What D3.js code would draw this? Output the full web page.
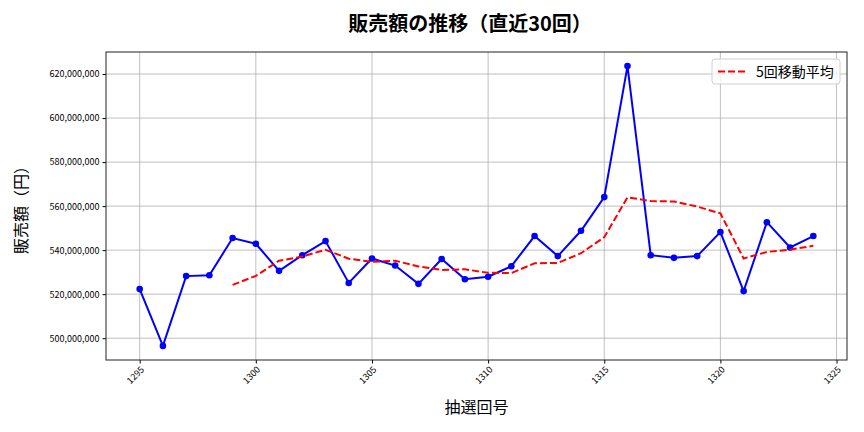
<!DOCTYPE html>
<html>
<head>
<meta charset="utf-8">
<script src="https://cdn.jsdelivr.net/npm/d3@7"></script>
<style>
  body { margin: 0; background: #fff; }
  svg text { font-family: "Noto Sans CJK JP", "Noto Sans", sans-serif; }
</style>
</head>
<body>
<div id="chart"></div>
<script>
const width = 864;
const height = 432;
const marginTop = 52;
const marginRight = 17;
const marginBottom = 72;
const marginLeft = 106;

// 抽選回号
const draws = [1295, 1296, 1297, 1298, 1299, 1300, 1301, 1302, 1303, 1304,
    1305, 1306, 1307, 1308, 1309, 1310, 1311, 1312, 1313, 1314,
    1315, 1316, 1317, 1318, 1319, 1320, 1321, 1322, 1323, 1324];
// 販売額 (millions of yen)
const sales = [522.3, 496.5, 528.2, 528.6, 545.5, 542.9, 530.6, 537.7, 544.1, 525.1,
    536.2, 533.0, 524.7, 536.0, 526.8, 527.9, 532.7, 546.4, 537.3, 548.8,
    564.1, 623.6, 537.7, 536.5, 537.3, 548.2, 521.4, 552.7, 541.2, 546.4];
// 5回移動平均 (first 4 draws have no value)
const movingAvg = [null, null, null, null, 524.2, 528.3, 535.2, 537.1, 540.2, 536.1,
    534.7, 535.2, 532.6, 531.0, 531.3, 529.7, 529.6, 534.0, 534.2, 538.6,
    545.9, 564.0, 562.3, 562.1, 559.8, 556.7, 536.2, 539.2, 540.2, 542.0];
const xTicks = [1295, 1300, 1305, 1310, 1315, 1320, 1325];
const yTicks = [500, 520, 540, 560, 580, 600, 620];

const svg = d3.select("#chart")
    .append("svg")
    .attr("width", width)
    .attr("height", height);

const xScale = d3.scaleLinear()
    .domain([1293.55, 1325.45])
    .range([marginLeft, width - marginRight]);

const yScale = d3.scaleLinear()
    .domain([490.1, 630.0])
    .range([height - marginBottom, marginTop]);

// grid
svg.append("g")
    .selectAll("line")
    .data(xTicks)
    .join("line")
    .attr("x1", d => xScale(d)).attr("x2", d => xScale(d))
    .attr("y1", marginTop).attr("y2", height - marginBottom)
    .attr("stroke", "#b0b0b0").attr("stroke-width", 0.8);

svg.append("g")
    .selectAll("line")
    .data(yTicks)
    .join("line")
    .attr("x1", marginLeft).attr("x2", width - marginRight)
    .attr("y1", d => yScale(d)).attr("y2", d => yScale(d))
    .attr("stroke", "#b0b0b0").attr("stroke-width", 0.8);

// axes
const xAxis = svg.append("g")
    .attr("transform", `translate(0, ${height - marginBottom})`)
    .call(d3.axisBottom(xScale).tickValues(xTicks).tickFormat(d3.format("d")).tickSize(3.5).tickSizeOuter(0));
xAxis.select(".domain").remove();
xAxis.selectAll("text")
    .attr("font-size", 9)
    .attr("fill", "#000")
    .style("text-anchor", "end")
    .attr("x", 0)
    .attr("y", 0)
    .attr("dx", "0.1em")
    .attr("dy", "0.3em")
    .attr("transform", "translate(2, 9) rotate(-45)");

const yAxis = svg.append("g")
    .attr("transform", `translate(${marginLeft}, 0)`)
    .call(d3.axisLeft(yScale).tickValues(yTicks).tickFormat(d => d3.format(",")(d * 1e6)).tickSize(3.5).tickSizeOuter(0));
yAxis.select(".domain").remove();
yAxis.selectAll("text").attr("font-size", 9).attr("fill", "#000");

svg.append("rect")
    .attr("x", marginLeft)
    .attr("y", marginTop)
    .attr("width", width - marginLeft - marginRight)
    .attr("height", height - marginTop - marginBottom)
    .attr("fill", "none")
    .attr("stroke", "#222")
    .attr("stroke-width", 1);

// lines
const salesData = draws.map((d, i) => ({draw: d, value: sales[i]}));
const maData = draws.map((d, i) => ({draw: d, value: movingAvg[i]}));

const line = d3.line()
    .defined(d => d.value != null)
    .x(d => xScale(d.draw))
    .y(d => yScale(d.value));

svg.append("path")
    .datum(salesData)
    .attr("fill", "none")
    .attr("stroke", "#0000ff")
    .attr("stroke-width", 2)
    .attr("d", line);

svg.append("g")
    .selectAll("circle")
    .data(salesData)
    .join("circle")
    .attr("cx", d => xScale(d.draw))
    .attr("cy", d => yScale(d.value))
    .attr("r", 3.3)
    .attr("fill", "#0000ff");

svg.append("path")
    .datum(maData)
    .attr("fill", "none")
    .attr("stroke", "#ff0000")
    .attr("stroke-width", 2)
    .attr("stroke-dasharray", "7,3")
    .attr("d", line);

// legend
const legend = svg.append("g").attr("transform", `translate(712, 59)`);
legend.append("rect")
    .attr("width", 128).attr("height", 25).attr("rx", 3)
    .attr("fill", "rgba(255,255,255,0.8)")
    .attr("stroke", "#d0d0d0");
legend.append("line")
    .attr("x1", 6).attr("x2", 34).attr("y1", 12.5).attr("y2", 12.5)
    .attr("stroke", "#ff0000").attr("stroke-width", 2).attr("stroke-dasharray", "7,3");
legend.append("text")
    .attr("x", 44).attr("y", 17.5)
    .attr("font-size", 14)
    .text("5回移動平均");

// titles
svg.append("text")
    .attr("x", 470)
    .attr("y", 31)
    .attr("text-anchor", "middle")
    .attr("font-size", 20)
    .attr("font-weight", "bold")
    .text("販売額の推移（直近30回）");

svg.append("text")
    .attr("x", (marginLeft + width - marginRight) / 2)
    .attr("y", 413)
    .attr("text-anchor", "middle")
    .attr("font-size", 16)
    .text("抽選回号");

svg.append("text")
    .attr("transform", "rotate(-90)")
    .attr("x", -(marginTop + height - marginBottom) / 2)
    .attr("y", 27)
    .attr("text-anchor", "middle")
    .attr("font-size", 16)
    .text("販売額（円）");
</script>
</body>
</html>
